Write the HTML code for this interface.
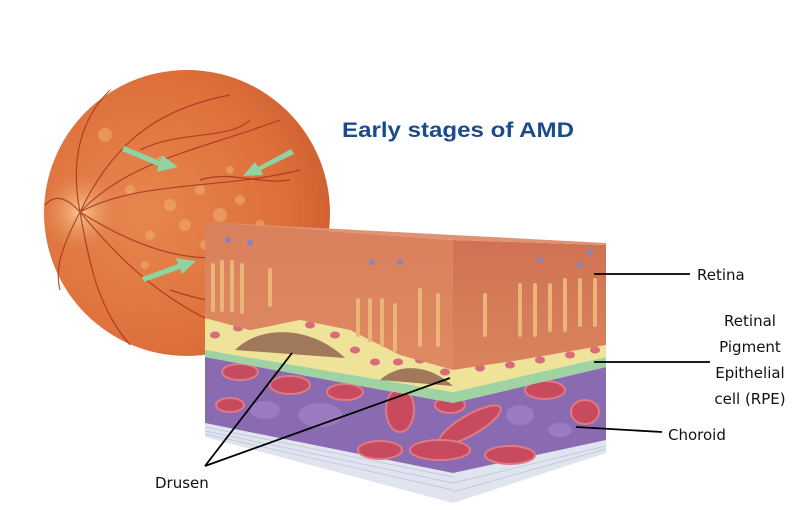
<!DOCTYPE html>
<html><head><meta charset="utf-8"><style>
html,body{margin:0;padding:0;background:#fff;width:800px;height:510px;overflow:hidden}
svg{display:block}
</style></head><body>
<svg width="800" height="510" viewBox="0 0 800 510" xmlns="http://www.w3.org/2000/svg">
<defs>
<radialGradient id="fund" cx="0.35" cy="0.5" r="0.7">
<stop offset="0" stop-color="#e8864f"/><stop offset="0.7" stop-color="#dd6f3a"/><stop offset="1" stop-color="#cc5e30"/>
</radialGradient>
<radialGradient id="disc" cx="0.5" cy="0.5" r="0.5">
<stop offset="0" stop-color="#f8c98e"/><stop offset="1" stop-color="#e58a55" stop-opacity="0"/>
</radialGradient>
<linearGradient id="ret" x1="0" y1="0" x2="0" y2="1"><stop offset="0" stop-color="#d9805c"/><stop offset="1" stop-color="#de8a62"/></linearGradient>
<linearGradient id="side" x1="0" y1="0" x2="0" y2="1"><stop offset="0" stop-color="#d07253"/><stop offset="1" stop-color="#d9845c"/></linearGradient>
</defs>
<circle cx="187" cy="213" r="143" fill="url(#fund)"/>
<circle cx="80" cy="212" r="40" fill="url(#disc)"/>
<g fill="#f0b070" opacity="0.55">
<circle cx="170" cy="205" r="6"/><circle cx="200" cy="190" r="5"/><circle cx="220" cy="215" r="7"/><circle cx="150" cy="235" r="5"/><circle cx="185" cy="225" r="6"/><circle cx="240" cy="200" r="5"/><circle cx="260" cy="225" r="5"/><circle cx="130" cy="190" r="5"/><circle cx="205" cy="245" r="5"/><circle cx="105" cy="135" r="7"/><circle cx="160" cy="160" r="4"/><circle cx="230" cy="170" r="4"/><circle cx="145" cy="265" r="4"/>
</g>
<g stroke="#a8331f" stroke-width="1.2" fill="none" opacity="0.85">
<path d="M80 212 C110 150 150 110 230 95"/><path d="M80 212 C130 160 200 150 280 120"/><path d="M80 212 C140 180 220 190 300 170"/>
<path d="M80 212 C120 260 160 300 230 330"/><path d="M80 212 C140 250 200 270 260 250"/><path d="M80 212 C90 270 100 310 130 345"/>
<path d="M80 212 C70 160 80 120 110 90"/><path d="M80 212 C60 190 50 200 45 205"/><path d="M80 212 C60 250 55 270 60 290"/>
<path d="M140 150 C180 130 230 140 250 120"/><path d="M200 180 C230 170 260 185 290 180"/><path d="M170 290 C200 300 240 310 270 300"/>
</g>
<g fill="#8fd3a0">
<path d="M124 146 L160 161 L162 155 L178 167 L157 172 L158 166 L122 151Z"/>
<path d="M291 149 L258 167 L255 162 L243 176 L263 175 L261 170 L294 154Z"/>
<path d="M142 277 L178 264 L176 258 L196 261 L182 274 L180 269 L144 282Z"/>
</g>
<polygon points="205,423 453,473 606,440 606,453 453,503 205,437" fill="#dfe4ee"/>
<g stroke="#b9c2d6" stroke-width="0.7"><line x1="205" y1="427" x2="453" y2="477"/><line x1="205" y1="431" x2="453" y2="483"/><line x1="453" y1="483" x2="606" y2="446"/><line x1="205" y1="434" x2="453" y2="490"/><line x1="453" y1="492" x2="606" y2="449"/></g>
<polygon points="205,357 453,403 606,367 606,440 453,473 205,423" fill="#8a6ab0"/>
<g fill="#c84a5e" stroke="#e07a85" stroke-width="2">
<ellipse cx="240" cy="372" rx="18" ry="8"/><ellipse cx="290" cy="385" rx="20" ry="9"/><ellipse cx="345" cy="392" rx="18" ry="8"/><ellipse cx="230" cy="405" rx="14" ry="7"/>
<ellipse cx="400" cy="410" rx="14" ry="22"/><ellipse cx="470" cy="425" rx="35" ry="10" transform="rotate(-30 470 425)"/><ellipse cx="440" cy="450" rx="30" ry="10"/><ellipse cx="380" cy="450" rx="22" ry="9"/>
<ellipse cx="545" cy="390" rx="20" ry="9"/><ellipse cx="585" cy="412" rx="14" ry="12"/><ellipse cx="510" cy="455" rx="25" ry="9"/><ellipse cx="450" cy="405" rx="15" ry="8"/>
</g>
<g fill="#9f80c6" opacity="0.8"><ellipse cx="320" cy="415" rx="22" ry="12"/><ellipse cx="265" cy="410" rx="15" ry="9"/><ellipse cx="520" cy="415" rx="14" ry="10"/><ellipse cx="560" cy="430" rx="12" ry="7"/></g>
<polygon points="205,350 453,392 606,357 606,367 453,403 205,357" fill="#9fd3a3"/>
<polygon points="205,318 250,330 300,320 350,330 400,355 453,370 520,360 606,345 606,357 453,392 205,350" fill="#efe39a"/>
<path d="M235 350 C260 325 310 325 345 358 Z" fill="#a0785a"/>
<path d="M380 380 C400 362 430 365 453 386 Z" fill="#a0785a"/>
<g fill="#d96b7a">
<ellipse cx="215" cy="335" rx="5" ry="3.5"/><ellipse cx="238" cy="328" rx="5" ry="3.5"/><ellipse cx="262" cy="322" rx="5" ry="3.5"/><ellipse cx="285" cy="319" rx="5" ry="3.5"/><ellipse cx="310" cy="325" rx="5" ry="3.5"/><ellipse cx="335" cy="335" rx="5" ry="3.5"/><ellipse cx="355" cy="350" rx="5" ry="3.5"/><ellipse cx="375" cy="362" rx="5" ry="3.5"/><ellipse cx="398" cy="362" rx="5" ry="3.5"/><ellipse cx="420" cy="360" rx="5" ry="3.5"/><ellipse cx="445" cy="372" rx="5" ry="3.5"/><ellipse cx="480" cy="368" rx="5" ry="3.5"/><ellipse cx="510" cy="365" rx="5" ry="3.5"/><ellipse cx="540" cy="360" rx="5" ry="3.5"/><ellipse cx="570" cy="355" rx="5" ry="3.5"/><ellipse cx="595" cy="350" rx="5" ry="3.5"/>
</g>
<polygon points="205,222 453,240 453,370 400,355 350,330 300,320 250,330 205,318" fill="url(#ret)"/>
<polygon points="453,240 606,245 606,345 520,360 453,370" fill="url(#side)"/>
<polygon points="205,222 606,243 606,245 453,240" fill="#e09272"/>
<g stroke="#eab577" stroke-width="4" stroke-linecap="round">
<line x1="213" y1="265" x2="213" y2="310"/><line x1="222" y1="262" x2="222" y2="310"/><line x1="232" y1="262" x2="232" y2="310"/><line x1="242" y1="265" x2="242" y2="312"/><line x1="270" y1="270" x2="270" y2="305"/>
<line x1="358" y1="300" x2="358" y2="335"/><line x1="370" y1="300" x2="370" y2="340"/><line x1="382" y1="300" x2="382" y2="345"/><line x1="395" y1="305" x2="395" y2="350"/><line x1="420" y1="290" x2="420" y2="345"/><line x1="438" y1="295" x2="438" y2="345"/>
<line x1="485" y1="295" x2="485" y2="335"/><line x1="520" y1="285" x2="520" y2="335"/><line x1="535" y1="285" x2="535" y2="335"/><line x1="550" y1="285" x2="550" y2="330"/><line x1="565" y1="280" x2="565" y2="330"/><line x1="580" y1="280" x2="580" y2="325"/><line x1="595" y1="280" x2="595" y2="325"/>
</g>
<g fill="#8a82b8"><circle cx="228" cy="240" r="3"/><circle cx="250" cy="243" r="3"/><circle cx="372" cy="262" r="3"/><circle cx="400" cy="262" r="3"/><circle cx="540" cy="260" r="3"/><circle cx="590" cy="252" r="3"/><circle cx="580" cy="265" r="3"/></g>
<g stroke="#000" stroke-width="1.8">
<line x1="594" y1="274" x2="690" y2="274"/>
<line x1="594" y1="362" x2="710" y2="362"/>
<line x1="576" y1="427" x2="662" y2="432"/>
<line x1="205" y1="466" x2="292" y2="353"/>
<line x1="205" y1="466" x2="450" y2="378"/>
</g>
<g font-family="DejaVu Sans, sans-serif" font-size="15" fill="#111">
<text x="697" y="280">Retina</text>
<text x="750" y="326" text-anchor="middle">Retinal</text>
<text x="750" y="352" text-anchor="middle">Pigment</text>
<text x="750" y="378" text-anchor="middle">Epithelial</text>
<text x="750" y="404" text-anchor="middle">cell (RPE)</text>
<text x="668" y="440">Choroid</text>
<text x="155" y="488">Drusen</text>
</g>
<text x="342" y="137" font-family="Liberation Sans, sans-serif" font-size="21" font-weight="bold" fill="#1a4b8c" textLength="232" lengthAdjust="spacingAndGlyphs">Early stages of AMD</text>
</svg>
</body></html>
